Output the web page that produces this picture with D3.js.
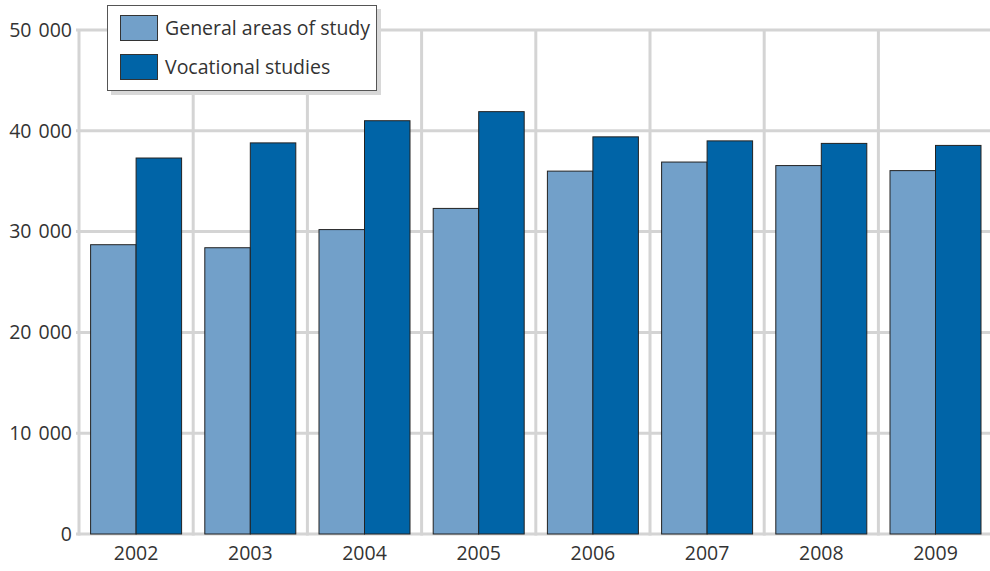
<!DOCTYPE html>
<html><head><meta charset="utf-8">
<script src="https://cdn.jsdelivr.net/npm/d3@7"></script>
<style>body{margin:0;background:#fff;}svg{display:block;}</style>
</head><body>
<svg id="c" width="990" height="571"></svg>
<script>
const categories = ["2002","2003","2004","2005","2006","2007","2008","2009"];
const seriesNames = ["General areas of study","Vocational studies"];
const general = [28700,28400,30200,32300,36000,36900,36550,36050];
const vocational = [37300,38800,41000,41900,39400,39000,38750,38550];
const yTicks = [0,10000,20000,30000,40000,50000];
const colors = ["#72a0c9","#0064a7"];

const svg = d3.select("#c");
const font = "'Open Sans', 'Noto Sans', sans-serif";
const mLeft = 79, mRight = 992.6, mTop = 30, mBottom = 534;
const x = d3.scaleBand().domain(categories).range([mLeft, mRight]).paddingInner(0).paddingOuter(0);
const y = d3.scaleLinear().domain([0,50000]).range([mBottom, mTop]);
const grid = "#d4d4d4";

// horizontal gridlines
svg.append("g").selectAll("line").data(yTicks).join("line")
  .attr("x1", mLeft-3).attr("x2", 990).attr("y1", d=>y(d)).attr("y2", d=>y(d))
  .attr("stroke", grid).attr("stroke-width", 3);
// vertical gridlines
svg.append("g").selectAll("line").data(categories).join("line")
  .attr("x1", d=>x(d)).attr("x2", d=>x(d)).attr("y1", mTop).attr("y2", mBottom+1.5)
  .attr("stroke", grid).attr("stroke-width", 3);

// y labels
svg.append("g").selectAll("text").data(yTicks).join("text")
  .attr("x", 72).attr("y", d=>y(d)).attr("dy","0.35em").attr("text-anchor","end")
  .attr("font-family", font).attr("font-size", 19.5).attr("fill","#333")
  .attr("word-spacing", 2)
  .text(d=>d3.format(",")(d).replace(/,/g," "));

// bars
const inner = d3.scaleBand().domain(seriesNames).range([0, x.bandwidth()]).paddingOuter(0.255).paddingInner(0);
const data = categories.map((c,i)=>({c, vals:[general[i], vocational[i]]}));
const g = svg.append("g");
data.forEach(d=>{
  d.vals.forEach((v,j)=>{
    g.append("rect")
      .attr("x", x(d.c)+inner(seriesNames[j]))
      .attr("y", y(v))
      .attr("width", inner.bandwidth())
      .attr("height", y(0)-y(v))
      .attr("fill", colors[j])
      .attr("stroke", "#222").attr("stroke-width", 1);
  });
});

// x labels
svg.append("g").selectAll("text").data(categories).join("text")
  .attr("x", d=>x(d)+x.bandwidth()/2).attr("y", 553).attr("dy","0.35em").attr("text-anchor","middle")
  .attr("font-family", font).attr("font-size", 19.5).attr("fill","#333")
  .text(d=>d);

// legend
const lg = svg.append("g");
lg.append("rect").attr("x",111).attr("y",9).attr("width",270).attr("height",86).attr("fill","#d8d8d8");
lg.append("rect").attr("x",107.5).attr("y",5.5).attr("width",269).attr("height",85).attr("fill","#fff").attr("stroke","#555").attr("stroke-width",1);
seriesNames.forEach((s,i)=>{
  lg.append("rect").attr("x",120.5).attr("y",15.5+i*39).attr("width",37).attr("height",25)
    .attr("fill",colors[i]).attr("stroke","#333").attr("stroke-width",1);
  lg.append("text").attr("x",165).attr("y",28+i*39).attr("dy","0.35em")
    .attr("font-family",font).attr("font-size",19.5).attr("fill","#333").text(s);
});
</script>
</body></html>
